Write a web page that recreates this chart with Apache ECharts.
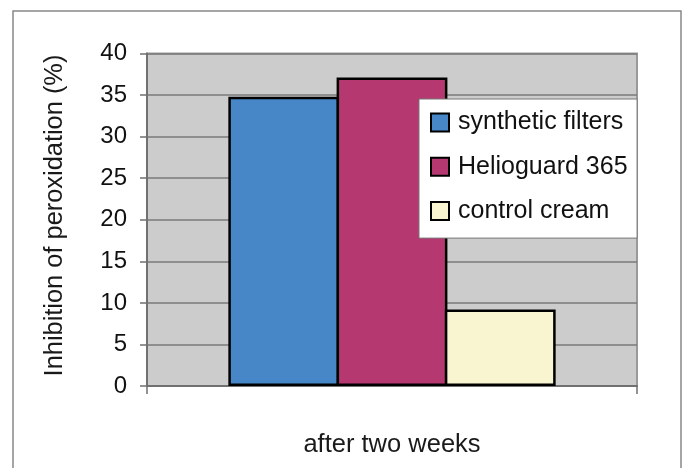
<!DOCTYPE html>
<html>
<head>
<meta charset="utf-8">
<script src="https://cdn.jsdelivr.net/npm/echarts@6/dist/echarts.min.js"></script>
<style>
  html, body { margin: 0; padding: 0; background: #ffffff; }
  #chart { width: 686px; height: 468px; }
</style>
</head>
<body>
<div id="chart"></div>
<script>
// Inhibition of lipid peroxidation after two weeks of treatment
const categories = ['after two weeks'];
const seriesNames = ['synthetic filters', 'Helioguard 365', 'control cream'];
const syntheticFilters = [34.8];
const helioguard365 = [37.1];
const controlCream = [9.2];
const yTicks = { min: 0, max: 40, interval: 5 };
const yAxisTitle = 'Inhibition of peroxidation (%)';

const seriesValues = [syntheticFilters, helioguard365, controlCream];
const seriesColors = ['#4787c7', '#b53870', '#f9f5d1'];
const FONT = '"Liberation Sans", Arial, Helvetica, sans-serif';

const chart = echarts.init(document.getElementById('chart'), null, { renderer: 'canvas' });

chart.setOption({
  animation: false,
  backgroundColor: '#ffffff',
  textStyle: { fontFamily: FONT },
  graphic: [{
    // outer chart frame
    type: 'rect',
    shape: { x: 13, y: 11, width: 668, height: 480 },
    style: { fill: 'none', stroke: '#888888', lineWidth: 1.5 },
    z: 0
  }],
  grid: {
    left: 147, right: 49, top: 53.5, bottom: 82,
    show: true,
    backgroundColor: '#cccccc',
    borderColor: '#999999',
    borderWidth: 2
  },
  legend: {
    orient: 'vertical',
    left: 419, top: 99,
    backgroundColor: '#ffffff',
    borderColor: '#777777',
    borderWidth: 1,
    borderRadius: 0,
    padding: [11, 9.5, 14.5, 11],
    itemGap: 19.3,
    itemWidth: 18,
    itemHeight: 18,
    itemTextGap: 11,
    icon: 'rect',
    itemStyle: { borderColor: '#000000', borderWidth: 2 },
    textStyle: { fontFamily: FONT, fontSize: 25, color: '#111111', padding: [0, 0, 0, 4] },
    data: seriesNames
  },
  xAxis: {
    type: 'category',
    data: categories,
    axisLine: { lineStyle: { color: '#707070', width: 2 } },
    axisTick: { show: true, length: 8, lineStyle: { color: '#707070', width: 1.5 } },
    axisLabel: { margin: 45.5, fontFamily: FONT, fontSize: 25.5, color: '#1a1a1a' },
    splitLine: { show: false }
  },
  yAxis: {
    type: 'value',
    min: yTicks.min, max: yTicks.max, interval: yTicks.interval,
    name: yAxisTitle,
    nameLocation: 'middle',
    nameRotate: 90,
    nameGap: 80,
    nameTextStyle: { fontFamily: FONT, fontSize: 25.4, color: '#1a1a1a', padding: [0, 0, 0, 8.5] },
    axisLine: { show: true, lineStyle: { color: '#707070', width: 2 } },
    axisTick: { show: true, length: 7, lineStyle: { color: '#707070', width: 1.5 } },
    axisLabel: { margin: 20, fontFamily: FONT, fontSize: 24, color: '#111111' },
    splitLine: { show: true, lineStyle: { color: '#7a7a7a', width: 1.5 } }
  },
  series: seriesNames.map((name, i) => ({
    name: name,
    type: 'bar',
    data: seriesValues[i],
    // bars share their touching edges, so the borders overlap into one line
    barGap: '-2.3%',
    barCategoryGap: '33.2%',
    itemStyle: { color: seriesColors[i], borderColor: '#000000', borderWidth: 2.5 }
  }))
});
</script>
</body>
</html>
